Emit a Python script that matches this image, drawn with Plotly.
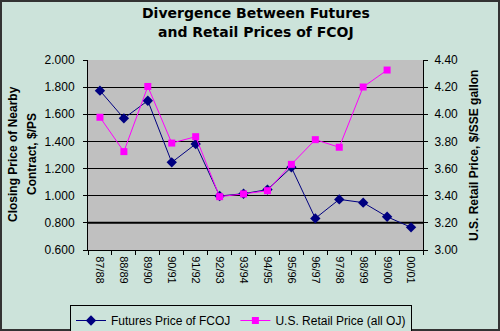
import plotly.graph_objects as go

categories = ["87/88", "88/89", "89/90", "90/91", "91/92", "92/93", "93/94",
              "94/95", "95/96", "96/97", "97/98", "98/99", "99/00", "00/01"]
futures = [1.774, 1.570, 1.700, 1.246, 1.381, 0.998, 1.015, 1.045, 1.209,
           0.833, 0.973, 0.949, 0.845, 0.767]
retail = [3.978, 3.725, 4.205, 3.788, 3.835, 3.393, 3.413, 3.437, 3.631,
          3.813, 3.757, 4.201, 4.326, None]

left_ticks = [0.6, 0.8, 1.0, 1.2, 1.4, 1.6, 1.8, 2.0]
right_ticks = [3.0, 3.2, 3.4, 3.6, 3.8, 4.0, 4.2, 4.4]
title_lines = ["Divergence Between Futures", "and Retail Prices of FCOJ"]
left_title = ["Closing Price of Nearby", "Contract, $/PS"]
right_title = "U.S. Retail Price, $/SSE gallon"

W, H = 500, 331
ml, mr, mt, mb = 88, 77, 60, 81
pw, ph = W - ml - mr, H - mt - mb
BG = "#CCE3DA"
FONT = "Liberation Sans, Arial, sans-serif"
TFONT = "DejaVu Sans, Liberation Sans, sans-serif"


def py(pix):
    return 1 + (mt - pix) / ph


def px(pix):
    return (pix - ml) / pw


fig = go.Figure()
fig.add_trace(go.Scatter(
    x=categories, y=futures, name="Futures Price of FCOJ",
    mode="lines+markers", line=dict(color="#000080", width=1),
    marker=dict(symbol="diamond", size=8, color="#000080"),
    yaxis="y"))
fig.add_trace(go.Scatter(
    x=categories, y=retail, name="U.S. Retail Price (all OJ)",
    mode="lines+markers", line=dict(color="#FF00FF", width=1),
    marker=dict(symbol="square", size=7, color="#FF00FF"),
    yaxis="y2"))

fig.update_layout(
    width=W, height=H,
    margin=dict(l=ml, r=mr, t=mt, b=mb, autoexpand=False),
    paper_bgcolor=BG, plot_bgcolor="#C0C0C0",
    font=dict(family=FONT, size=11, color="#000000"),
    xaxis=dict(type="category", tickangle=90, showgrid=False,
               showline=True, linecolor="#000000", linewidth=1,
               ticks="outside", ticklen=4, tickcolor="#000000",
               tickson="boundaries", range=[-0.5, 13.5],
               ticklabelstandoff=3, tickfont=dict(size=11)),
    yaxis=dict(range=[0.6, 2.0], tickvals=left_ticks,
               ticktext=[f"{v:.3f}" for v in left_ticks],
               showgrid=True, gridcolor="#000000", gridwidth=1,
               showline=True, linecolor="#000000", linewidth=1,
               ticks="outside", ticklen=4, tickcolor="#000000",
               ticklabelstandoff=6, tickfont=dict(size=12),
               zeroline=False),
    yaxis2=dict(range=[3.0, 4.4], tickvals=right_ticks,
                ticktext=[f"{v:.2f}" for v in right_ticks],
                overlaying="y", side="right", showgrid=False,
                showline=True, linecolor="#000000", linewidth=1,
                ticks="outside", ticklen=4, tickcolor="#000000",
                ticklabelstandoff=4, tickfont=dict(size=12),
                zeroline=False),
    legend=dict(orientation="h", xref="paper", x=px(70), xanchor="left",
                yref="paper", y=py(305), yanchor="top",
                bgcolor=BG, bordercolor="#000000", borderwidth=1,
                font=dict(size=12), tracegroupgap=0),
    showlegend=True,
)

# emphasised gridline (as in reference) at the second left tick
fig.add_shape(type="line", xref="paper", yref="y", x0=0, x1=1,
              y0=left_ticks[1], y1=left_ticks[1],
              line=dict(color="#000000", width=2), layer="below")

for line, ypix in zip(title_lines, [13, 32]):
    fig.add_annotation(text=f"<b>{line}</b>", xref="paper", yref="paper",
                       x=px(256), y=py(ypix), xanchor="center", yanchor="middle",
                       showarrow=False, font=dict(size=14, family=TFONT))

for line, xpix in zip(left_title, [13, 32]):
    fig.add_annotation(text=f"<b>{line}</b>", xref="paper", yref="paper",
                       x=px(xpix), y=py(154), xanchor="center", yanchor="middle",
                       textangle=-90, showarrow=False,
                       font=dict(size=12, family=FONT))

fig.add_annotation(text=f"<b>{right_title}</b>", xref="paper", yref="paper",
                   x=px(474), y=py(155), xanchor="center", yanchor="middle",
                   textangle=-90, showarrow=False,
                   font=dict(size=12, family=FONT))

fig.add_shape(type="rect", xref="paper", yref="paper",
              x0=-(ml - 1) / pw, x1=1 + (mr - 1) / pw,
              y0=-(mb - 1) / ph, y1=1 + (mt - 1) / ph,
              line=dict(color="#333333", width=2), fillcolor="rgba(0,0,0,0)",
              layer="above")

fig.write_html("out.html")
